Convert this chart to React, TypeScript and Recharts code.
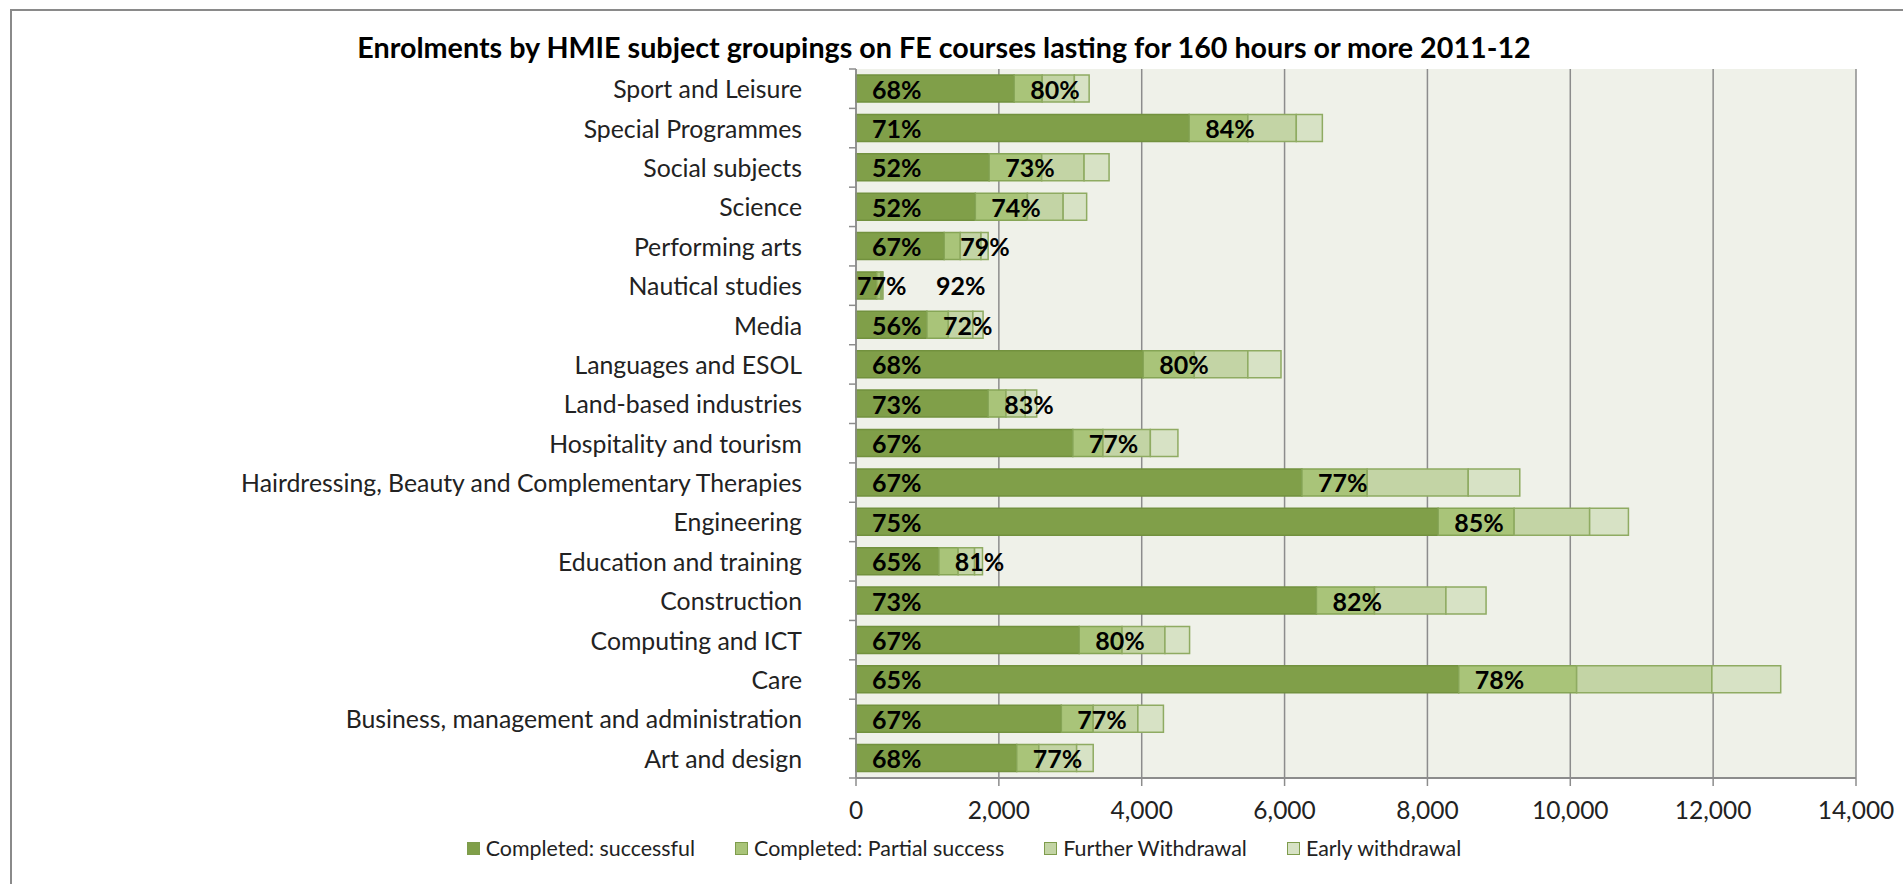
import React from "react";
import { BarChart, Bar, XAxis, YAxis, CartesianGrid, LabelList } from "recharts";

const subjects = [
  "Sport and Leisure",
  "Special Programmes",
  "Social subjects",
  "Science",
  "Performing arts",
  "Nautical studies",
  "Media",
  "Languages and ESOL",
  "Land-based industries",
  "Hospitality and tourism",
  "Hairdressing, Beauty and Complementary Therapies",
  "Engineering",
  "Education and training",
  "Construction",
  "Computing and ICT",
  "Care",
  "Business, management and administration",
  "Art and design",
];

const successful = [2214, 4664, 1864, 1671, 1235, 290, 993, 4021, 1850, 3036, 6243, 8150, 1160, 6446, 3125, 8438, 2875, 2250];
const partialSuccess = [393, 822, 736, 729, 225, 58, 300, 715, 250, 421, 914, 1064, 270, 813, 600, 1651, 446, 310];
const furtherWithdrawal = [450, 678, 593, 500, 290, 20, 343, 750, 270, 664, 1414, 1057, 230, 1000, 600, 1893, 625, 529];
const earlyWithdrawal = [207, 365, 350, 329, 100, 10, 143, 464, 160, 386, 722, 543, 111, 562, 345, 964, 358, 232];

const successRate = ["68%", "71%", "52%", "52%", "67%", "77%", "56%", "68%", "73%", "67%", "67%", "75%", "65%", "73%", "67%", "65%", "67%", "68%"];
const completedRate = ["80%", "84%", "73%", "74%", "79%", "92%", "72%", "80%", "83%", "77%", "77%", "85%", "81%", "82%", "80%", "78%", "77%", "77%"];

const xTicks = [0, 2000, 4000, 6000, 8000, 10000, 12000, 14000];

const seriesNames = ["Completed: successful", "Completed: Partial success", "Further Withdrawal", "Early withdrawal"];
const seriesColors = ["#809f49", "#a9c479", "#c3d4a5", "#d7e2c5"];

const rows = subjects.map((subject, i) => ({
  subject,
  successful: successful[i],
  partial: partialSuccess[i],
  further: furtherWithdrawal[i],
  early: earlyWithdrawal[i],
  rateA: successRate[i],
  rateB: completedRate[i],
}));

const FONT = "Lato, 'Open Sans', sans-serif";
const PLOT_TOP = 69;
const PLOT_BOTTOM = 778;
const PLOT_LEFT = 856;
const PLOT_RIGHT = 1856;
const AXIS_GREY = "#8c8c8c";

function CategoryTick(props: any) {
  const { x, y, payload, index } = props;
  const band = (PLOT_BOTTOM - PLOT_TOP) / subjects.length;
  return (
    <g>
      <line x1={x - 7} x2={x} y1={y - band / 2} y2={y - band / 2} stroke={AXIS_GREY} strokeWidth={1.5} />
      {index === subjects.length - 1 && (
        <line x1={x - 7} x2={x} y1={y + band / 2} y2={y + band / 2} stroke={AXIS_GREY} strokeWidth={1.5} />
      )}
      <text x={x - 54} y={y} textAnchor="end" dominantBaseline="central" fontFamily={FONT} fontSize={24.8} fill="#222">
        {payload.value}
      </text>
    </g>
  );
}

function RateLabelA(props: any) {
  const { x, y, width, height, value } = props;
  const tx = width > 40 ? x + 16 : x + 1;
  return (
    <text x={tx} y={y + height / 2} dominantBaseline="central" fontFamily={FONT} fontWeight="bold" fontSize={25} fill="#000">
      {value}
    </text>
  );
}

function RateLabelB(props: any) {
  const { x, y, height, value } = props;
  const tx = Math.max(x + 16, PLOT_LEFT + 80);
  return (
    <text x={tx} y={y + height / 2} dominantBaseline="central" fontFamily={FONT} fontWeight="bold" fontSize={25} fill="#000">
      {value}
    </text>
  );
}

export default function App() {
  return (
    <div style={{ position: "fixed", left: 0, top: 0, width: 1903, height: 884, background: "#fff", overflow: "hidden" }}>
      <div
        style={{
          position: "absolute",
          left: 10,
          top: 9,
          width: 1900,
          height: 880,
          borderLeft: "2px solid #8a8a8a",
          borderTop: "2px solid #8a8a8a",
        }}
      />
      <div
        style={{
          position: "absolute",
          left: 0,
          top: 29,
          width: 1888,
          textAlign: "center",
          fontFamily: FONT,
          fontWeight: "bold",
          fontSize: 28.7,
          color: "#000",
          lineHeight: "36px",
        }}
      >
        Enrolments by HMIE subject groupings on FE courses lasting for 160 hours or more 2011-12
      </div>
      <div style={{ position: "absolute", left: 0, top: 0 }}>
        <BarChart
          width={1903}
          height={884}
          data={rows}
          layout="vertical"
          margin={{ top: PLOT_TOP, right: 1903 - PLOT_RIGHT, bottom: 884 - PLOT_BOTTOM - 40, left: 0 }}
          barSize={27}
        >
          <CartesianGrid horizontal={false} vertical stroke={AXIS_GREY} strokeWidth={1.5} fill="#eff1e9" />
          <XAxis
            type="number"
            domain={[0, 14000]}
            ticks={xTicks}
            height={40}
            tickFormatter={(v: number) => v.toLocaleString("en-US")}
            tick={{ fill: "#222", fontSize: 24.5, fontFamily: FONT }}
            axisLine={{ stroke: AXIS_GREY, strokeWidth: 2 }}
            tickLine={{ stroke: AXIS_GREY, strokeWidth: 1.5 }}
            tickSize={8}
            tickMargin={16}
          />
          <YAxis
            type="category"
            dataKey="subject"
            width={PLOT_LEFT}
            interval={0}
            tick={<CategoryTick />}
            tickLine={false}
            tickSize={0}
            tickMargin={0}
            axisLine={{ stroke: AXIS_GREY, strokeWidth: 1.5 }}
          />
          <Bar dataKey="successful" stackId="a" fill={seriesColors[0]} stroke="#72913e" strokeWidth={1.5} isAnimationActive={false}>
            <LabelList dataKey="rateA" content={<RateLabelA />} />
          </Bar>
          <Bar dataKey="partial" stackId="a" fill={seriesColors[1]} stroke="#86a556" strokeWidth={1.5} isAnimationActive={false}>
            <LabelList dataKey="rateB" content={<RateLabelB />} />
          </Bar>
          <Bar dataKey="further" stackId="a" fill={seriesColors[2]} stroke="#8fab62" strokeWidth={1.5} isAnimationActive={false} />
          <Bar dataKey="early" stackId="a" fill={seriesColors[3]} stroke="#8fab62" strokeWidth={1.5} isAnimationActive={false} />
        </BarChart>
      </div>
      <div
        style={{
          position: "absolute",
          left: 0,
          top: 835,
          width: 1928,
          display: "flex",
          justifyContent: "center",
          gap: 40,
          fontFamily: FONT,
          fontSize: 21.4,
          color: "#222",
        }}
      >
        {seriesNames.map((name, i) => (
          <div key={name} style={{ display: "flex", alignItems: "center", gap: 6 }}>
            <span
              style={{
                display: "inline-block",
                width: 11,
                height: 11,
                background: seriesColors[i],
                border: "1px solid #7e9c4c",
              }}
            />
            <span>{name}</span>
          </div>
        ))}
      </div>
    </div>
  );
}
